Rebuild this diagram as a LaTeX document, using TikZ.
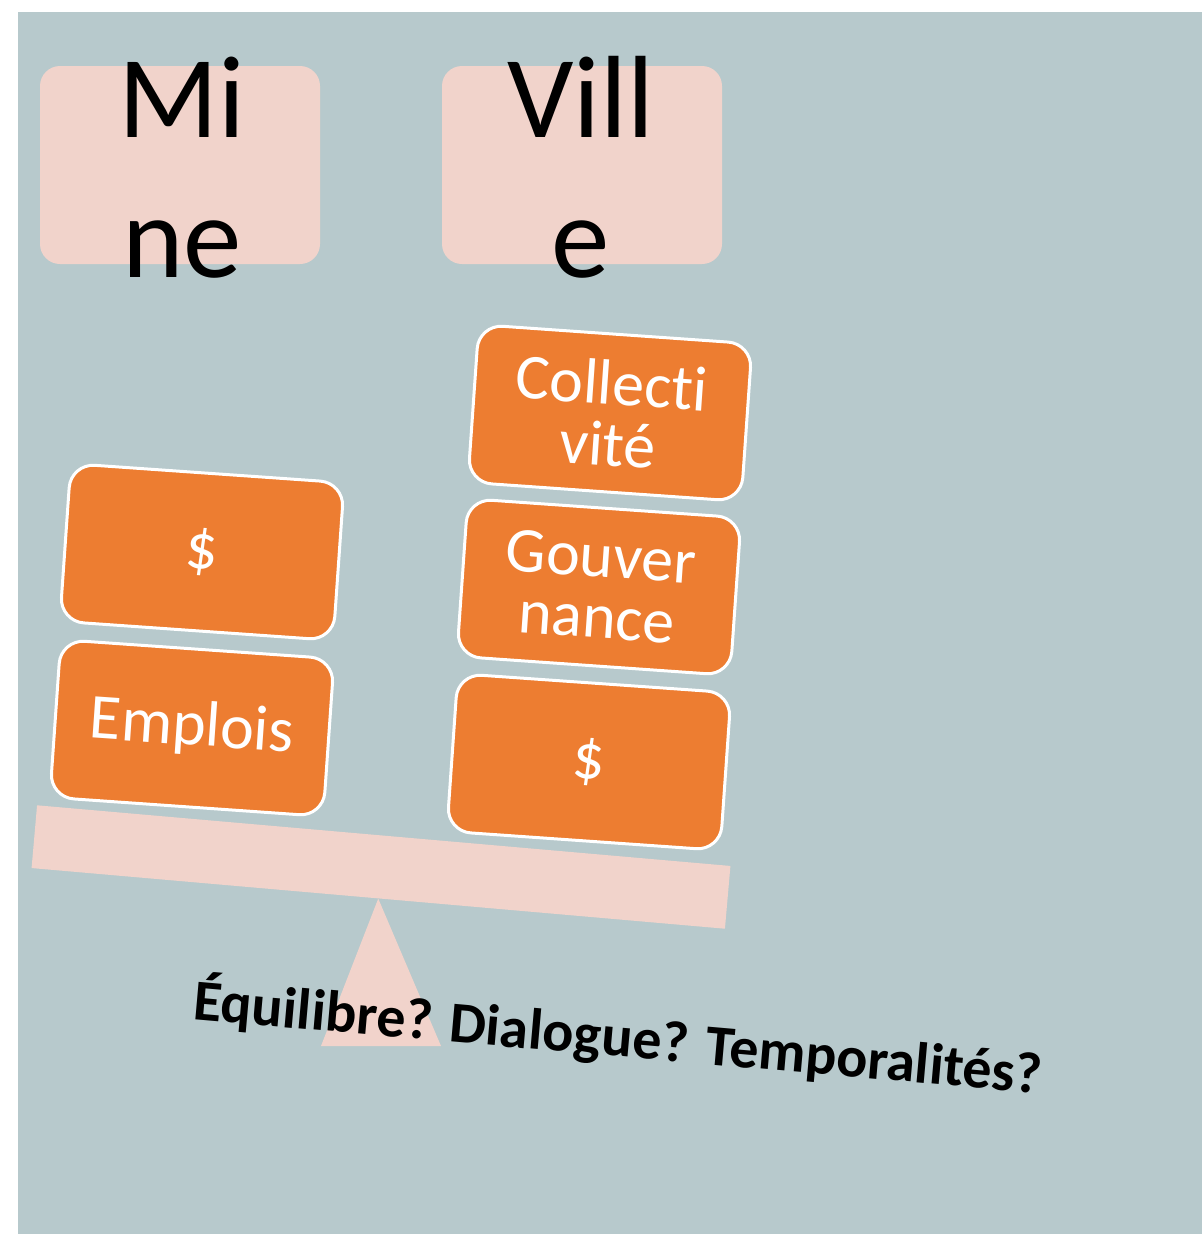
\documentclass[tikz,border=0pt]{standalone}
\usepackage{fontspec}
\setmainfont{Carlito}[Ligatures={TeX,NoCommon}]
\definecolor{fond}{HTML}{B7C9CC}
\definecolor{rose}{HTML}{F1D3CB}
\definecolor{bloc}{HTML}{ED7D31}
\tikzset{
  titre/.style={fill=rose, rounded corners=20, minimum width=280, minimum height=198, inner sep=0},
  grand/.style={font=\fontsize{117}{140}\selectfont, align=center, anchor=base, inner sep=0},
  brique/.style={draw=white, line width=3, fill=bloc, rounded corners=24, minimum width=274,
    minimum height=158, rotate=-4, text=white, align=center, inner sep=0,
    font=\fontsize{64}{61}\selectfont},
}
\begin{document}
\begin{tikzpicture}[x=1pt,y=-1pt]
      \useasboundingbox (0,0) rectangle (1202,1234);
      \fill[fond] (18,12) rectangle (1202,1234);
      % titres
      \node[titre] (mine) at (180,165) {};
      \node[titre] (ville) at (582,165) {};
      \node[grand] (minetxt) at (182,277) {Mi\\ne};
      \node[grand] (villetxt) at (581,277) {Vill\\e};
      % balance
      \node[fill=rose, minimum width=696, minimum height=63, rotate=-5, inner sep=0] (fleau) at (381,867) {};
      \fill[rose] (fleau.south) -- (441,1046) -- (321,1046) -- cycle;
      % briques
      \node[brique] (dollarmine) at (202,552) {\$};
      \node[brique] (emplois) at (192,728) {Emplois};
      \node[brique] (collectivite) at (610,413) {Collecti\\vité};
      \node[brique] (gouvernance) at (599,587) {Gouver\\nance};
      \node[brique] (dollarville) at (589,762) {\$};
      \node[rotate=-5, font=\fontsize{58}{70}\selectfont\bfseries] (question) at (618,1037)
        {Équilibre? Dialogue? Temporalités?};
    \end{tikzpicture}
\end{document}
